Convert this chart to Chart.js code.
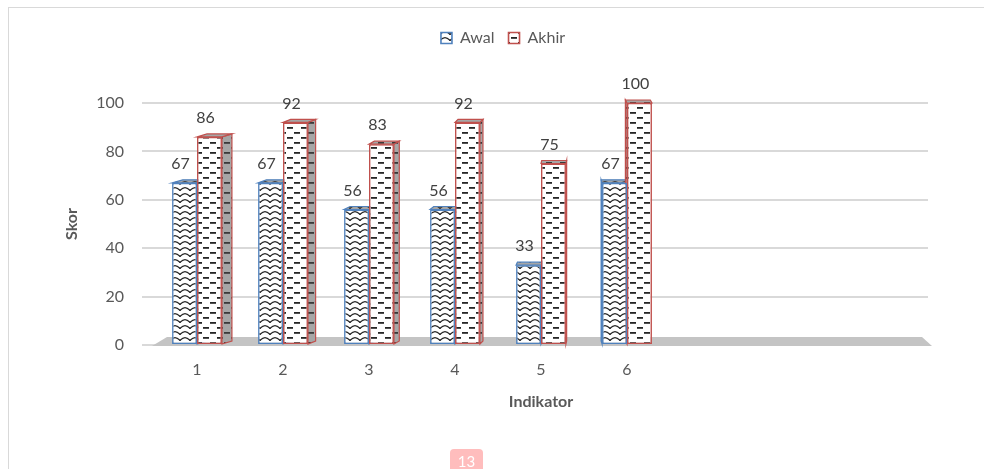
<!DOCTYPE html>
<html>
<head>
<meta charset="utf-8">
<script src="https://cdn.jsdelivr.net/npm/chart.js@4.4.1/dist/chart.umd.min.js"></script>
<style>
  html, body { margin: 0; padding: 0; background: #ffffff; }
  #wrap { position: relative; width: 984px; height: 469px; }
</style>
</head>
<body>
<div id="wrap"><canvas id="chart" width="984" height="469"></canvas></div>
<script>
// Scores per indicator, before ("Awal") and after ("Akhir")
const categories = ['1', '2', '3', '4', '5', '6', '', '', ''];
const awalScores = [67, 67, 56, 56, 33, 67, null, null, null];
const akhirScores = [86, 92, 83, 92, 75, 100, null, null, null];
const seriesNames = ['Awal', 'Akhir'];
const yTickValues = [0, 20, 40, 60, 80, 100];
const pageNumber = '13';

const FONT = 'Lato, "Open Sans", "DejaVu Sans", sans-serif';
const BLUE = '#4f81bd';
const RED = '#c0504d';

// Wavy hatch used for the "Awal" bars
function wavePattern(bg, ink) {
  const w = 10, h = 6;
  const c = document.createElement('canvas');
  c.width = w; c.height = h;
  const g = c.getContext('2d');
  g.fillStyle = bg; g.fillRect(0, 0, w, h);
  g.strokeStyle = ink; g.lineWidth = 1.3; g.lineCap = 'round';
  for (const ox of [-w, 0, w]) {
    for (const oy of [-h, 0, h]) {
      g.beginPath();
      g.moveTo(ox, oy + 4.4);
      g.quadraticCurveTo(ox + w / 2, oy - 1.2, ox + w, oy + 4.4);
      g.stroke();
    }
  }
  return g.createPattern(c, 'repeat');
}

// Staggered short dashes used for the "Akhir" bars
function dashPattern(bg, ink) {
  const w = 14, h = 10;
  const c = document.createElement('canvas');
  c.width = w; c.height = h;
  const g = c.getContext('2d');
  g.fillStyle = bg; g.fillRect(0, 0, w, h);
  g.fillStyle = ink;
  g.fillRect(0, 2, 6, 1.8);
  g.fillRect(7, 7, 6, 1.8);
  return g.createPattern(c, 'repeat');
}

const awalFill = wavePattern('#ffffff', '#262626');
const akhirFill = dashPattern('#ffffff', '#262626');
const awalShade = wavePattern('#a6a6a6', '#3a3a3a');
const akhirShade = dashPattern('#a6a6a6', '#3a3a3a');

// Frame around the figure
const frame = {
  id: 'frame',
  beforeDraw(chart) {
    const ctx = chart.ctx;
    ctx.save();
    ctx.strokeStyle = '#d9d9d9';
    ctx.lineWidth = 1;
    ctx.strokeRect(8.5, 7.5, 1000, 500);
    ctx.restore();
  }
};

// Extra room under the legend and a small horizontal nudge
const legendRoom = {
  id: 'legendRoom',
  beforeInit(chart) {
    const lg = chart.legend;
    const fit = lg.fit;
    lg.fit = function () { fit.call(this); this.height = 87; };
  },
  afterLayout(chart) {
    chart.legend.left += 10;
    chart.legend.right += 10;
  }
};

// Floor plate and the depth faces of each column
const depthFaces = {
  id: 'depthFaces',
  beforeDatasetsDraw(chart) {
    const { ctx, chartArea } = chart;
    const a = chartArea;
    ctx.save();
    // floor
    ctx.fillStyle = '#c4c4c4';
    ctx.beginPath();
    ctx.moveTo(a.left - 2, a.bottom + 1);
    ctx.lineTo(a.right + 4, a.bottom + 1);
    ctx.lineTo(a.right - 6, a.bottom - 8);
    ctx.lineTo(a.left + 13, a.bottom - 8);
    ctx.closePath();
    ctx.fill();

    const vx = a.left + (a.right - a.left) * 0.55;
    const k = 0.027;
    const dy = -3;
    const shades = [awalShade, akhirShade];
    const edges = [BLUE, RED];
    chart.data.datasets.forEach((ds, i) => {
      const meta = chart.getDatasetMeta(i);
      meta.data.forEach((bar, j) => {
        if (ds.data[j] == null) return;
        const l = bar.x - bar.width / 2;
        const r = bar.x + bar.width / 2;
        const t = bar.y;
        const b = bar.base;
        const dx = k * (vx - bar.x);
        ctx.fillStyle = shades[i];
        ctx.strokeStyle = edges[i];
        ctx.lineWidth = 1.2;
        // side face toward the viewer
        const sx = dx > 0 ? r : l;
        ctx.beginPath();
        ctx.moveTo(sx, t);
        ctx.lineTo(sx + dx, t + dy);
        ctx.lineTo(sx + dx, b + dy);
        ctx.lineTo(sx, b);
        ctx.closePath();
        ctx.fill();
        ctx.stroke();
        // top face
        ctx.beginPath();
        ctx.moveTo(l, t);
        ctx.lineTo(r, t);
        ctx.lineTo(r + dx, t + dy);
        ctx.lineTo(l + dx, t + dy);
        ctx.closePath();
        ctx.fill();
        ctx.stroke();
      });
    });
    ctx.restore();
  }
};

// Value labels above the columns
const valueLabels = {
  id: 'valueLabels',
  afterDatasetsDraw(chart) {
    const ctx = chart.ctx;
    ctx.save();
    ctx.font = '16px ' + FONT;
    ctx.fillStyle = '#404040';
    ctx.textAlign = 'center';
    ctx.textBaseline = 'middle';
    chart.data.datasets.forEach((ds, i) => {
      chart.getDatasetMeta(i).data.forEach((bar, j) => {
        const v = ds.data[j];
        if (v == null) return;
        ctx.fillText(String(v), bar.x - 4, bar.y - 19);
      });
    });
    ctx.restore();
  }
};

// Page number badge
const pageBadge = {
  id: 'pageBadge',
  afterDraw(chart) {
    const ctx = chart.ctx;
    ctx.save();
    ctx.fillStyle = '#ffbdbd';
    ctx.beginPath();
    ctx.roundRect(450, 449, 33, 26, 4);
    ctx.fill();
    ctx.fillStyle = '#ffffff';
    ctx.font = '15px ' + FONT;
    ctx.textAlign = 'center';
    ctx.textBaseline = 'middle';
    ctx.fillText(pageNumber, 466.5, 462);
    ctx.restore();
  }
};

new Chart(document.getElementById('chart'), {
  type: 'bar',
  data: {
    labels: categories,
    datasets: [
      {
        label: seriesNames[0],
        data: awalScores,
        backgroundColor: awalFill,
        borderColor: BLUE,
        borderWidth: 1.6,
        borderSkipped: false,
        categoryPercentage: 0.58,
        barPercentage: 1
      },
      {
        label: seriesNames[1],
        data: akhirScores,
        backgroundColor: akhirFill,
        borderColor: RED,
        borderWidth: 1.6,
        borderSkipped: false,
        categoryPercentage: 0.58,
        barPercentage: 1
      }
    ]
  },
  options: {
    responsive: false,
    animation: false,
    devicePixelRatio: 1,
    layout: { padding: { top: 16, left: 58, right: 56, bottom: 54 } },
    plugins: {
      tooltip: { enabled: false },
      legend: {
        position: 'top',
        labels: {
          font: { family: FONT, size: 16 },
          color: '#595959',
          boxWidth: 11,
          boxHeight: 11,
          padding: 14
        }
      }
    },
    scales: {
      x: {
        grid: { display: false, drawTicks: false },
        border: { display: false },
        ticks: { font: { family: FONT, size: 16 }, color: '#595959', padding: 15 },
        title: {
          display: true, text: 'Indikator',
          font: { family: FONT, size: 16, weight: 'bold' }, color: '#595959'
        },
        afterFit(scale) { scale.height = 70; }
      },
      y: {
        min: 0,
        max: 100,
        afterBuildTicks(scale) { scale.ticks = yTickValues.map(v => ({ value: v })); },
        grid: { color: '#d9d9d9', lineWidth: 2, drawTicks: true, tickLength: 12 },
        border: { display: false },
        ticks: { font: { family: FONT, size: 16 }, color: '#595959', padding: 18 },
        title: {
          display: true, text: 'Skor',
          font: { family: FONT, size: 16, weight: 'bold' }, color: '#595959'
        },
        afterFit(scale) { scale.width = 96; }
      }
    }
  },
  plugins: [frame, legendRoom, depthFaces, valueLabels, pageBadge]
});
</script>
</body>
</html>
